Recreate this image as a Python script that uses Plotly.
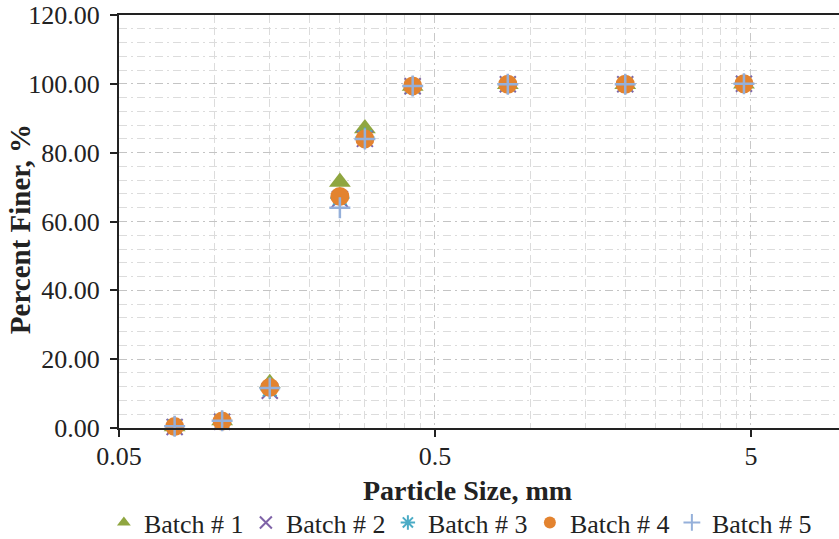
import plotly.graph_objects as go

# Sieve sizes (mm)
particle_size = [0.075, 0.106, 0.15, 0.25, 0.3, 0.425, 0.85, 2.0, 4.75]

batch1 = [0.4, 2.2, 13.0, 71.5, 87.0, 99.4, 99.9, 99.9, 100.0]
batch2 = [0.3, 1.8, 10.8, 66.5, 84.0, 99.3, 99.9, 99.9, 100.0]
batch3 = [0.5, 2.0, 11.2, 66.8, 84.5, 99.3, 99.9, 99.9, 100.0]
batch4 = [0.4, 2.0, 11.8, 67.3, 84.0, 99.4, 99.9, 99.9, 100.0]
batch5 = [0.5, 2.1, 11.6, 64.0, 84.0, 99.4, 99.9, 99.9, 100.0]

series_names = ["Batch # 1", "Batch # 2", "Batch # 3", "Batch # 4", "Batch # 5"]

x_tick_vals = [0.05, 0.5, 5]
x_tick_text = ["0.05", "0.5", "5"]

FONT = "Liberation Serif"

fig = go.Figure()

styles = [
    dict(symbol="triangle-up", color="#8FA640", size=19, line=dict(width=0)),
    dict(symbol="x-thin-open", color="#7F63A8", size=16, line=dict(width=2, color="#7F63A8")),
    dict(symbol="asterisk-open", color="#4BACC6", size=16, line=dict(width=2, color="#4BACC6")),
    dict(symbol="circle", color="#E3832F", size=19, line=dict(width=0)),
    dict(symbol="cross-thin-open", color="#95B0DA", size=15, line=dict(width=2.5, color="#95B0DA")),
]

for name, ys, st in zip(series_names, [batch1, batch2, batch3, batch4, batch5], styles):
    fig.add_trace(go.Scatter(
        x=particle_size, y=ys, mode="markers", name=name,
        marker=st, cliponaxis=False,
    ))

minor_x = [0.05 * k for k in range(2, 10)] + [0.5 * k for k in range(2, 10)]

fig.update_layout(
    width=839, height=539,
    margin=dict(l=119, r=0, t=15, b=111, autoexpand=False),
    plot_bgcolor="white", paper_bgcolor="white",
    font=dict(family=FONT, size=26, color="#222"),
    showlegend=True,
    legend=dict(
        orientation="h", x=-0.021, xanchor="left", y=-0.172, yanchor="top",
        font=dict(family=FONT, size=26, color="#222"),
        entrywidth=97, entrywidthmode="pixels",
        itemsizing="constant", bgcolor="rgba(0,0,0,0)",
    ),
    xaxis=dict(
        type="log",
        range=[-1.30103, 0.9775],
        tickmode="array", tickvals=x_tick_vals, ticktext=x_tick_text,
        ticks="outside", ticklen=7, tickwidth=2, tickcolor="#222",
        showline=True, linecolor="#222", linewidth=2, mirror=True,
        showgrid=True, gridcolor="#C8C8C8", gridwidth=1, griddash="8px,4px,2px,4px",
        minor=dict(tickmode="array", tickvals=minor_x, showgrid=True,
                   gridcolor="#DCDCDC", gridwidth=1, griddash="8px,4px",
                   ticks=""),
        zeroline=False,
        tickfont=dict(family=FONT, size=26, color="#222"),
        ticklabelstandoff=-3,
    ),
    yaxis=dict(
        range=[0, 120], dtick=20, tickformat=".2f",
        ticks="outside", ticklen=7, tickwidth=2, tickcolor="#222",
        showline=True, linecolor="#222", linewidth=2,
        showgrid=True, gridcolor="#C4C4C4", gridwidth=1, griddash="8px,4px,2px,4px",
        minor=dict(dtick=4, showgrid=True, gridcolor="#DCDCDC", gridwidth=1,
                   griddash="8px,4px,2px,4px", ticks=""),
        zeroline=False,
        tickfont=dict(family=FONT, size=26, color="#222"),
        ticklabelstandoff=5,
    ),
    annotations=[
        dict(text="<b>Particle Size, mm</b>", xref="paper", yref="paper",
             x=0.484, y=-0.1525, xanchor="center", yanchor="middle",
             showarrow=False, font=dict(family=FONT, size=28, color="#222")),
        dict(text="<b>Percent Finer, %</b>", xref="paper", yref="paper",
             x=-0.138, y=0.4806, xanchor="center", yanchor="middle", textangle=-90,
             showarrow=False, font=dict(family=FONT, size=29, color="#222")),
    ],
)

fig.write_html("out.html")
